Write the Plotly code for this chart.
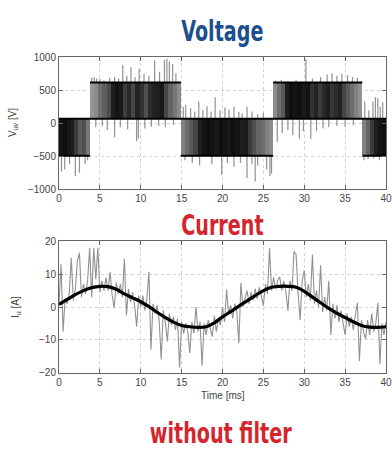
import plotly.graph_objects as go

# ---------------- data ----------------
time_ticks = [0, 5, 10, 15, 20, 25, 30, 35, 40]
v_ticks = [-1000, -500, 0, 500, 1000]
i_ticks = [-20, -10, 0, 10, 20]

# Voltage: PWM blocks (ms) and levels (V)
block_edges = [0, 3.8, 14.9, 26.2, 37.1, 40]
block_polarity = [-1, 1, -1, 1, -1]
v_high = 620
v_zero = 70
v_low = -490
# grey level of the PWM stripes inside each block (0 = black)
block_shades = [
    [20, 15, 25, 30, 60, 90, 80, 120],
    [150, 140, 110, 95, 75, 30, 20, 25, 60, 40, 70, 35, 50, 80, 45, 35, 30, 25, 70, 100, 120, 140],
    [130, 110, 90, 70, 30, 20, 15, 20, 25, 15, 20, 25, 15, 20, 30, 25, 60, 80, 100, 110, 130, 140],
    [140, 110, 90, 30, 15, 20, 15, 25, 20, 50, 35, 60, 40, 30, 55, 45, 35, 70, 90, 110, 130, 145],
    [130, 100, 60, 30, 20, 15],
]

# voltage spikes (time ms, value V)
spike_t = [0.3, 0.7, 1.3, 2.0, 2.5, 3.2, 3.5,
           4.0, 4.3, 4.6, 5.0, 5.5, 6.2, 6.8, 7.3, 7.8, 8.3, 8.8, 9.3, 9.8, 10.4, 11.0,
           11.7, 12.3, 12.9, 13.2, 13.5, 13.9, 14.3,
           4.5, 5.3, 5.9, 6.8, 7.5, 8.4, 9.5, 9.7, 10.5, 11.3, 12.2, 13.0, 14.0,
           15.2, 15.5, 16.1, 16.6, 17.1, 17.6, 18.1, 18.6, 19.1, 19.7, 20.3, 20.8, 21.4,
           22.0, 22.4, 23.0, 23.6, 24.3, 25.0,
           15.4, 16.3, 17.2, 18.7, 19.9, 20.6, 21.4, 22.2, 23.0, 23.6, 24.0, 24.3, 25.4, 25.8, 26.0,
           26.5, 27.2, 28.0, 29.0, 30.2, 31.0, 32.0, 32.8, 33.4, 34.0, 34.6, 35.3, 35.9, 36.5,
           26.7, 27.3, 28.0, 28.6, 29.4, 29.9, 30.8, 31.5, 32.3, 33.0, 34.0, 35.0, 36.0,
           37.4, 37.9, 38.4, 38.7, 39.0, 39.3, 39.6,
           37.3, 37.8, 38.5, 39.2]
spike_v = [-730, -700, -620, -800, -750, -620, -560,
           690, 700, 680, 670, 650, 690, 700, 680, 886, 720, 850, 700, 830, 750, 720,
           950, 780, 960, 980, 940, 900, 760,
           -60, -40, -100, -210, -60, -90, -270, -230, -80, -50, -40, -60, -20,
           250, 280, 230, 180, 330, 200, 260, 180, 400, 200, 240, 210, 250,
           170, 150, 250, 180, 140, 160,
           -560, -600, -640, -620, -780, -600, -660, -600, -830, -620, -880, -640, -700, -800, -760,
           650, 660, 640, 660, 970, 680, 700, 740, 760, 720, 750, 730, 700, 690,
           -280, -150, -100, -180, -235, -120, -235, -120, -80, -60, -40, -50, -30,
           330, 200, 330, 400, 380, 250, 320,
           -560, -540, -530, -560]

# Current: fundamental (black) sampled every 1 ms
cur_t = list(range(41))
cur_v = [0.8, 2.3, 3.8, 5.0, 5.9, 6.3, 6.2, 5.4, 4.0, 2.8,
         1.6, 0.1, -1.6, -3.2, -4.6, -5.6, -6.0, -6.2, -6.0, -4.8,
         -3.0, -1.4, 0.3, 1.9, 3.5, 5.0, 6.0, 6.3, 6.3, 6.0,
         4.8, 3.0, 1.3, -0.4, -1.9, -3.2, -4.5, -5.6, -6.1, -6.2, -6.0]

# Current: measured (grey) sampled every 0.25 ms
noise_dt = 0.25
noise_v = [1.0, 13, -7.5, 2.5, 1.0, 4.0, 15, 2.0,
           5.5, 14, 16.5, 3.0, 7.0, 4.0, 8.0, 18,
           3.0, 18, 8.5, 18, 4.5, 8.0, 5.0, 9.0,
           5.0, 10.7, 3.5, -0.2, 7.5, 4.0, 7.0, 3.0,
           14.7, -2.5, 5.5, 1.5, 4.5, 0.5, -6.0, 3.5,
           0.0, 3.5, -1.0, 2.5, 10.7, -13, 1.0, -2.0,
           0.5, -4.0, -16, -1.0, -4.5, -10.5, -2.0, -5.5,
           -3.0, -7.0, -3.5, -18.4, -4.5, -8.0, -5.0, -7.5,
           -14, -4.5, -8.0, 0.0, -7.5, -4.5, -17.9, -5.0,
           -8.5, -4.0, -6.5, -9.0, -2.6, -7.5, -3.5, -5.5,
           0.0, -4.5, 5.3, -2.0, 0.5, -3.5, 1.0, -1.5,
           -11, 7.3, 0.0, 3.0, 5.0, 1.0, 4.5, 2.0,
           5.5, 2.5, 6.0, 3.5, 0.4, 7.0, 4.0, 18,
           5.0, 9.0, 5.5, 8.0, 9.2, 5.0, 8.0, 4.5,
           -1.1, 8.0, 5.0, 17, 16, 4.0, -4.0, 8.0,
           11.2, 3.0, 7.0, 2.0, 16, 1.0, 5.0, 0.0,
           12.7, -1.5, 3.0, -1.0, 8.0, -8.5, 1.0, -3.5,
           0.5, -4.5, -1.0, -5.0, -8.5, -2.0, -6.0, -3.0,
           -7.0, -2.5, 1.3, -16.4, -4.0, -7.5, -9.7, -4.0,
           -8.5, -2.0, -7.5, -5.0, 1.3, -17.4, -5.0, -8.5,
           -4.5]
noise_t = [k * noise_dt for k in range(len(noise_v))]

# ---------------- build ----------------
title_font = "DejaVu Sans, Liberation Sans, sans-serif"
tick_family = "Liberation Sans, Arial, sans-serif"
tick_font = dict(family=tick_family, size=10, color="#444")
blue = "#1c4f8d"
red = "#d4252c"
spike_grey = "rgb(145,145,145)"

fig = go.Figure()

# PWM stripes as bars
bx, bw, bbase, bh, bc = [], [], [], [], []
for k, shades in enumerate(block_shades):
    t0, t1 = block_edges[k], block_edges[k + 1]
    w = (t1 - t0) / len(shades)
    lo, hi = (v_zero, v_high) if block_polarity[k] > 0 else (v_low, v_zero)
    for j, g in enumerate(shades):
        bx.append(t0 + (j + 0.5) * w)
        bw.append(w * 1.02)
        bbase.append(lo)
        bh.append(hi - lo)
        bc.append(f"rgb({g},{g},{g})")
fig.add_trace(go.Bar(x=bx, y=bh, base=bbase, width=bw,
                     marker=dict(color=bc, line=dict(width=0)),
                     xaxis="x", yaxis="y", showlegend=False, hoverinfo="skip"))

# spikes drawn from the nearest level outward
sx, sy = [], []
for t, v in zip(spike_t, spike_v):
    if v > v_high:
        base = v_high
    elif v < v_low:
        base = v_low
    else:
        base = v_zero
    sx += [t, t, None]
    sy += [base, v, None]
fig.add_trace(go.Scatter(x=sx, y=sy, mode="lines",
                         line=dict(color=spike_grey, width=1.2),
                         xaxis="x", yaxis="y", showlegend=False, hoverinfo="skip"))

# black level lines
lx, ly = [], []
for k in range(len(block_polarity)):
    t0, t1 = block_edges[k], block_edges[k + 1]
    edge = v_high if block_polarity[k] > 0 else v_low
    lx += [t0, t1, None]
    ly += [edge, edge, None]
lx += [block_edges[0], block_edges[-1], None]
ly += [v_zero, v_zero, None]
fig.add_trace(go.Scatter(x=lx, y=ly, mode="lines",
                         line=dict(color="black", width=2),
                         xaxis="x", yaxis="y", showlegend=False, hoverinfo="skip"))

# current
fig.add_trace(go.Scatter(x=noise_t, y=noise_v, mode="lines",
                         line=dict(color="rgb(145,145,145)", width=1.1),
                         xaxis="x2", yaxis="y2", showlegend=False, hoverinfo="skip"))
fig.add_trace(go.Scatter(x=cur_t, y=cur_v, mode="lines", line_shape="spline",
                         line=dict(color="black", width=3.2),
                         xaxis="x2", yaxis="y2", showlegend=False, hoverinfo="skip"))

axis_common = dict(showline=True, linecolor="#666", linewidth=1, mirror="ticks",
                   ticks="inside", ticklen=4, tickcolor="#666",
                   showgrid=True, gridcolor="#d2d2d2", griddash="dot", gridwidth=1,
                   zeroline=False, tickfont=tick_font, ticklabeloverflow="allow")

fig.update_layout(
    width=392, height=454,
    margin=dict(l=59, r=5, t=0, b=0),
    paper_bgcolor="white", plot_bgcolor="white",
    barmode="overlay", bargap=0,
    showlegend=False,
    xaxis=dict(domain=[0, 1], range=[0, 40], tickvals=time_ticks, anchor="y", **axis_common),
    yaxis=dict(domain=[0.5852, 0.8839], range=[-1000, 1000], tickvals=v_ticks, anchor="x", **axis_common),
    xaxis2=dict(domain=[0, 1], range=[0, 40], tickvals=time_ticks, anchor="y2", **axis_common),
    yaxis2=dict(domain=[0.1703, 0.4676], range=[-20, 20], tickvals=i_ticks, anchor="x2", **axis_common),
)


def ypx(px):
    return 1 - px / 454.0


def xpx(px):
    return (px - 59) / 328.0


def note(text, x, y, size, color, family, angle=0):
    fig.add_annotation(text=text, xref="paper", yref="paper", x=xpx(x), y=ypx(y),
                       xanchor="center", yanchor="middle", showarrow=False, textangle=angle,
                       font=dict(family=family, size=size, color=color))


note("<b>Voltage</b>", 223, 26, 29, blue, title_font)
note("<b>Current</b>", 223, 225, 29, red, title_font)
note("<b>without filter</b>", 221, 439, 29, red, title_font)
note("V<sub>uv</sub> [V]", 13, 120, 10, "#444", tick_family, -90)
note("I<sub>u</sub> [A]", 16, 309, 10, "#444", tick_family, -90)
note("Time [ms]", 224, 400, 10, "#444", tick_family)

post = """
document.body.style.margin = '0';
document.body.style.overflow = 'hidden';
function condense() {
  document.querySelectorAll('text.annotation-text').forEach(function (el) {
    var s = el.textContent || '';
    if (s === 'Voltage' || s === 'Current' || s === 'without filter') {
      var b = el.getBBox();
      var cx = b.x + b.width / 2;
      el.setAttribute('transform', 'translate(' + cx + ',0) scale(0.66,1) translate(' + (-cx) + ',0)');
    }
  });
}
condense();
var gd = document.getElementById('{plot_id}');
if (gd && gd.on) { gd.on('plotly_afterplot', condense); }
setTimeout(condense, 50);
setTimeout(condense, 300);
"""

fig.write_html("out.html", post_script=post, config={"displayModeBar": False})
